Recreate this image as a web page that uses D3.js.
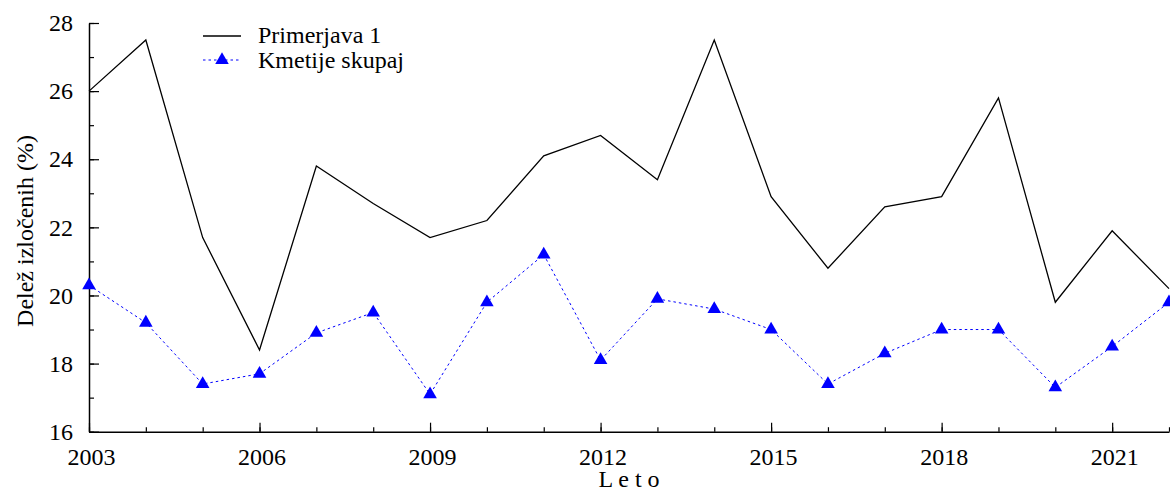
<!DOCTYPE html>
<html>
<head>
<meta charset="utf-8">
<script src="https://cdn.jsdelivr.net/npm/d3@7"></script>
<style>
  html, body { margin: 0; padding: 0; background: #fff; }
  svg { display: block; }
  text { font-family: "Liberation Serif", "Times New Roman", serif; fill: #000; }
</style>
</head>
<body>
<svg id="chart" width="1170" height="491"></svg>
<script>
// data
const years = [2003, 2004, 2005, 2006, 2007, 2008, 2009, 2010, 2011, 2012,
               2013, 2014, 2015, 2016, 2017, 2018, 2019, 2020, 2021, 2022]
const primerjava1 = [26.0, 27.5, 21.7, 18.4, 23.8, 22.7, 21.7, 22.2, 24.1, 24.7,
                     23.4, 27.5, 22.9, 20.8, 22.6, 22.9, 25.8, 19.8, 21.9, 20.2]
const kmetijeSkupaj = [20.3, 19.2, 17.4, 17.7, 18.9, 19.5, 17.1, 19.8, 21.2, 18.1,
                       19.9, 19.6, 19.0, 17.4, 18.3, 19.0, 19.0, 17.3, 18.5, 19.8]
const xMajorTicks = [2003, 2006, 2009, 2012, 2015, 2018, 2021]
const yMajorTicks = [16, 18, 20, 22, 24, 26, 28]
const seriesNames = ["Primerjava 1", "Kmetije skupaj"]

const svg = d3.select("#chart")
const fontSize = 24

const x = d3.scaleLinear().domain([2003, 2022]).range([89, 1169])
const y = d3.scaleLinear().domain([16, 28]).range([431.7, 23])

// x axis: minor ticks every year, major every 3
svg.append("g")
    .attr("transform", "translate(0," + y(16) + ")")
    .call(d3.axisBottom(x).tickValues(years).tickSize(-4.5).tickSizeOuter(0).tickFormat(""))
    .call(g => g.select(".domain").attr("stroke-width", 1.5))
    .call(g => g.selectAll(".tick line").attr("stroke-width", 1.2))

svg.append("g")
    .attr("transform", "translate(0," + y(16) + ")")
    .call(d3.axisBottom(x).tickValues(xMajorTicks).tickSize(-9).tickSizeOuter(0)
        .tickPadding(16).tickFormat(d3.format("d")))
    .call(g => g.select(".domain").remove())
    .call(g => g.selectAll(".tick line").attr("stroke-width", 1.2))
    .call(g => g.selectAll("text").attr("font-size", fontSize)
        .attr("font-family", "Liberation Serif, Times New Roman, serif").attr("dx", 2))

// y axis
const yMinor = d3.range(16, 29, 1)
svg.append("g")
    .attr("transform", "translate(" + x(2003) + ",0)")
    .call(d3.axisLeft(y).tickValues(yMinor).tickSize(-5).tickSizeOuter(0).tickFormat(""))
    .call(g => g.select(".domain").attr("stroke-width", 1.5))
    .call(g => g.selectAll(".tick line").attr("stroke-width", 1.2))

svg.append("g")
    .attr("transform", "translate(" + x(2003) + ",0)")
    .call(d3.axisLeft(y).tickValues(yMajorTicks).tickSize(-10).tickSizeOuter(0).tickPadding(16))
    .call(g => g.select(".domain").remove())
    .call(g => g.selectAll(".tick line").attr("stroke-width", 1.2))
    .call(g => g.selectAll("text").attr("font-size", fontSize)
        .attr("font-family", "Liberation Serif, Times New Roman, serif"))

// axis titles
svg.append("text")
    .attr("transform", "translate(33," + 231 + ")rotate(-90)")
    .attr("text-anchor", "middle")
    .attr("font-size", fontSize)
    .text("Delež izločenih (%)")

svg.append("text")
    .attr("x", (x(2003) + x(2022)) / 2)
    .attr("y", 487)
    .attr("text-anchor", "middle")
    .attr("font-size", fontSize)
    .text("L e t o")

// lines
const line = d3.line()
    .x((d, i) => x(years[i]))
    .y(d => y(d))

svg.append("path")
    .datum(primerjava1)
    .attr("d", line)
    .attr("fill", "none")
    .attr("stroke", "#000")
    .attr("stroke-width", 1.3)

svg.append("path")
    .datum(kmetijeSkupaj)
    .attr("d", line)
    .attr("fill", "none")
    .attr("stroke", "#0000ff")
    .attr("stroke-width", 1)
    .attr("stroke-dasharray", "2.5,3")

const tri = d3.symbol().type(d3.symbolTriangle).size(80)
svg.append("g")
    .selectAll("path")
    .data(kmetijeSkupaj)
    .join("path")
    .attr("d", tri)
    .attr("fill", "#0000ff")
    .attr("transform", (d, i) => "translate(" + x(years[i]) + "," + y(d) + ")")

// legend
const legend = svg.append("g")
legend.append("line")
    .attr("x1", 203).attr("x2", 241).attr("y1", 36).attr("y2", 36)
    .attr("stroke", "#000").attr("stroke-width", 1.3)
legend.append("text")
    .attr("x", 258).attr("y", 43)
    .attr("font-size", fontSize)
    .text(seriesNames[0])

legend.append("line")
    .attr("x1", 203).attr("x2", 241).attr("y1", 60).attr("y2", 60)
    .attr("stroke", "#0000ff").attr("stroke-width", 1).attr("stroke-dasharray", "2.5,3")
legend.append("path")
    .attr("d", tri)
    .attr("fill", "#0000ff")
    .attr("transform", "translate(222,60)")
legend.append("text")
    .attr("x", 258).attr("y", 68)
    .attr("font-size", fontSize)
    .text(seriesNames[1])
</script>
</body>
</html>
